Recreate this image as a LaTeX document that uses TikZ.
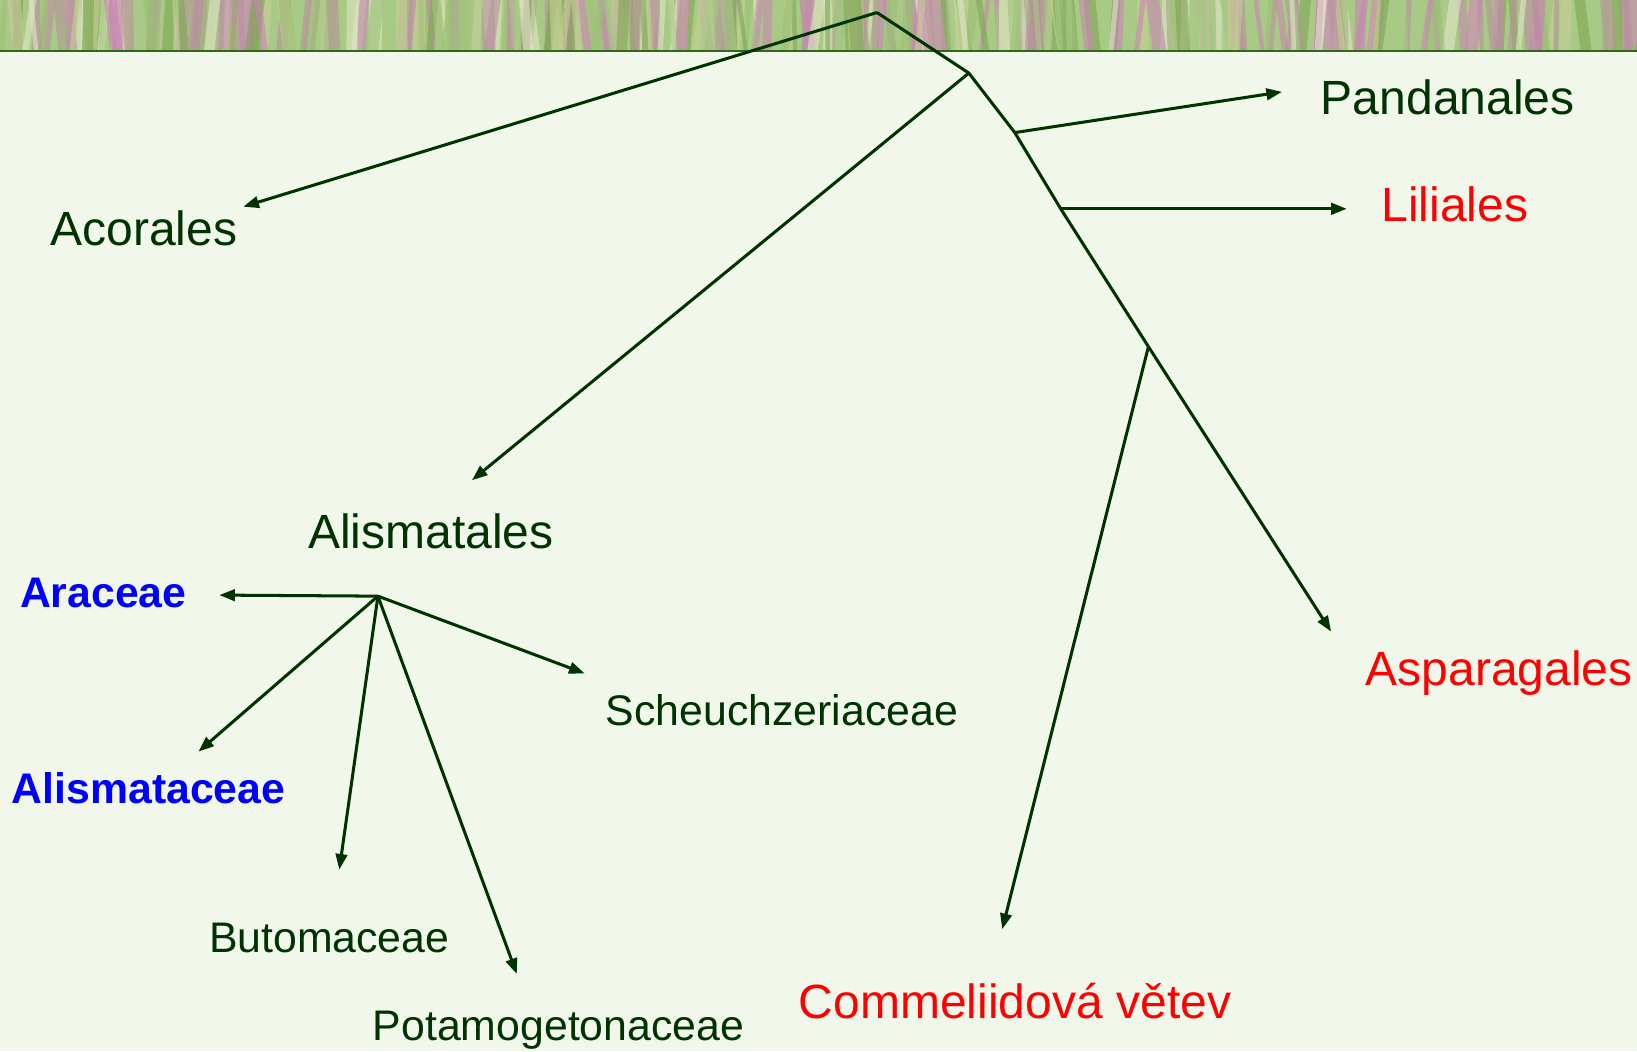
\documentclass[tikz,border=0pt]{standalone}
\usepackage{fontspec}
\setmainfont{Liberation Sans}
\usetikzlibrary{arrows.meta}
\definecolor{bg}{HTML}{F1F7EA}
\definecolor{dk}{HTML}{003300}
\definecolor{bandline}{HTML}{2E6B12}
\definecolor{gA}{HTML}{A9C986}
\definecolor{gB}{HTML}{7FA653}
\definecolor{gC}{HTML}{C6CF96}
\definecolor{gD}{HTML}{C985B5}
\definecolor{gE}{HTML}{E2E6C8}
\definecolor{gF}{HTML}{9CC076}
\definecolor{gG}{HTML}{B8919E}
\tikzset{
  conn/.style={draw=dk, line width=2.9pt, -{Triangle[length=15pt,width=11pt]}},
  stem/.style={draw=dk, line width=2.9pt},
  lbig/.style={anchor=base west, inner sep=0pt, font=\fontsize{46}{54}\selectfont, text=dk},
  lsmall/.style={anchor=base west, inner sep=0pt, font=\fontsize{41}{48}\selectfont, text=dk},
  lred/.style={lbig, text=red},
  lblue/.style={anchor=base west, inner sep=0pt, font=\fontsize{41}{47}\bfseries\selectfont, text=blue},
}
\begin{document}
\begin{tikzpicture}[x=1pt,y=-1pt]
\useasboundingbox (0,0) rectangle (1568,1007);
\fill[bg] (0,0) rectangle (1568,1007);
% grass band
\begin{scope}
\clip (0,0) rectangle (1568,49);
\fill[gA] (0,0) rectangle (1568,49);
\pgfmathsetseed{7}
\foreach \i in {1,...,360} {
  \pgfmathsetmacro{\xx}{rnd*1590-10}
  \pgfmathsetmacro{\dx}{rnd*20-10}
  \pgfmathsetmacro{\ww}{4+rnd*9}
  \pgfmathtruncatemacro{\cc}{int(rnd*7)}
  \ifcase\cc \def\col{gA}\or \def\col{gB}\or \def\col{gC}\or \def\col{gD}\or \def\col{gE}\or \def\col{gF}\or \def\col{gG}\fi
  \draw[\col, line width=\ww pt, line cap=round, opacity=0.6] (\xx,58) -- (\xx+\dx,-8);
}
\end{scope}
\draw[bandline, line width=1.8pt] (0,49) -- (1568,49);
% tree coordinates
\coordinate (apex) at (840,12);
\coordinate (n2) at (928,70);
\coordinate (nP) at (972,127);
\coordinate (nL) at (1016,200);
\coordinate (nC) at (1100,332);
\coordinate (tAcor) at (233,198);
\coordinate (tAlis) at (452,460);
\coordinate (tPand) at (1228,88);
\coordinate (tLil) at (1290,200);
\coordinate (tComm) at (960,890);
\coordinate (tAsp) at (1275,605);
\coordinate (hub) at (362,571);
\coordinate (tAra) at (210,570);
\coordinate (tAlc) at (190,720);
\coordinate (tBut) at (325,833);
\coordinate (tPot) at (495,933);
\coordinate (tSch) at (560,645);
% labels
\node[lbig] (acor) at (48,235) {Acorales};
\node[lbig] (pand) at (1265,110) {Pandanales};
\node[lred] (lil) at (1323,212) {Liliales};
\node[lbig] (alis) at (295,525) {Alismatales};
\node[lred] (asp) at (1308,657) {Asparagales};
\node[lred] (comm) at (765,976) {Commeliidová větev};
\node[lblue] (ara) at (19,582) {Araceae};
\node[lblue] (alc) at (11,770) {Alismataceae};
\node[lsmall] (sch) at (580,695) {Scheuchzeriaceae};
\node[lsmall] (but) at (200,912) {Butomaceae};
\node[lsmall] (pot) at (357,997) {Potamogetonaceae};
% connectors
\draw[conn] (apex) -- (tAcor);
\draw[stem] (apex) -- (n2) -- (nP) -- (nL) -- (nC);
\draw[conn] (nC) -- (tAsp);
\draw[conn] (n2) -- (tAlis);
\draw[conn] (nP) -- (tPand);
\draw[conn] (nL) -- (tLil);
\draw[conn] (nC) -- (tComm);
\draw[conn] (hub) -- (tAra);
\draw[conn] (hub) -- (tAlc);
\draw[conn] (hub) -- (tBut);
\draw[conn] (hub) -- (tPot);
\draw[conn] (hub) -- (tSch);
\end{tikzpicture}
\end{document}
